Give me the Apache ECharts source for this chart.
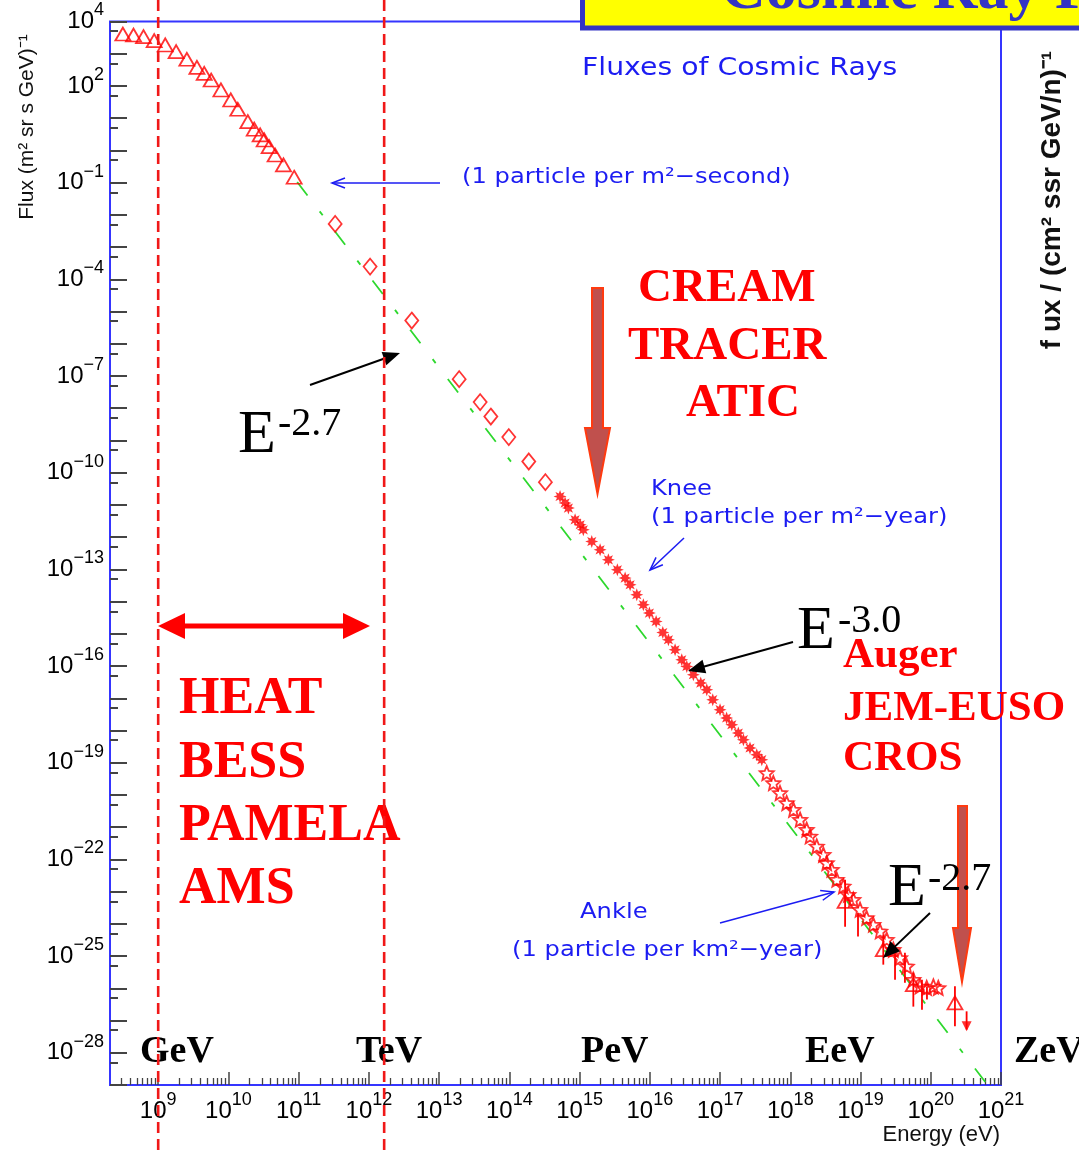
<!DOCTYPE html>
<html><head><meta charset="utf-8">
<script src="https://cdn.jsdelivr.net/npm/echarts@6/dist/echarts.min.js"></script>
<style>html,body{margin:0;padding:0;background:#fff}#c{width:1079px;height:1151px}</style>
</head><body><div id="c"></div>
<script>
// ---------------- DATA ----------------
const lowEnergyE = [3.14e8, 4.45e8, 6.18e8, 8.77e8, 1.26e9, 1.80e9, 2.56e9, 3.56e9, 4.52e9, 5.68e9, 7.82e9, 1.08e10, 1.36e10, 1.89e10, 2.33e10, 2.83e10, 3.23e10, 3.80e10, 4.62e10, 6.08e10, 8.63e10];
const lowEnergyFlux = [4.09e3, 3.81e3, 3.38e3, 2.54e3, 1.87e3, 1.16e3, 673, 379, 247, 153, 75, 36.7, 18.9, 7.8, 4.54, 3.02, 2.11, 1.31, 0.72, 0.354, 0.147];
const directE = [3.31e11, 1.04e12, 4.08e12, 1.93e13, 3.84e13, 5.45e13, 9.82e13, 1.89e14, 3.26e14];
const directFlux = [5.24e-3, 2.48e-4, 5.25e-6, 7.98e-8, 1.55e-8, 5.52e-9, 1.27e-9, 2.22e-10, 5.09e-11];
const kneeE = [5.27e14, 6.22e14, 6.93e14, 8.63e14, 1.02e15, 1.13e15, 1.49e15, 1.96e15, 2.57e15, 3.45e15, 4.45e15, 5.24e15, 6.52e15, 8.09e15, 9.86e15, 1.23e16, 1.53e16, 1.84e16, 2.29e16, 2.85e16, 3.36e16, 4.17e16, 5.31e16, 6.47e16, 7.87e16, 1.00e17, 1.24e17, 1.47e17, 1.82e17, 2.15e17, 2.67e17, 3.33e17, 3.93e17];
const kneeFlux = [1.82e-11, 1.14e-11, 7.96e-12, 3.45e-12, 2.42e-12, 1.69e-12, 7.33e-13, 4.05e-13, 1.98e-13, 9.70e-14, 5.37e-14, 3.33e-14, 1.63e-14, 7.98e-15, 4.41e-15, 2.42e-15, 1.10e-15, 6.55e-16, 3.21e-16, 1.57e-16, 9.73e-17, 5.37e-17, 2.97e-17, 1.84e-17, 9.02e-18, 4.42e-18, 2.44e-18, 1.51e-18, 8.36e-19, 5.18e-19, 2.86e-19, 1.77e-19, 1.24e-19];
const uhecrE = [4.62e17, 5.74e17, 7.14e17, 8.89e17, 1.11e18, 1.38e18, 1.71e18, 1.91e18, 2.38e18, 2.96e18, 3.30e18, 3.89e18, 4.58e18, 5.69e18, 6.70e18, 7.89e18, 9.84e18, 1.22e19, 1.52e19, 1.90e19, 2.36e19, 2.93e19, 3.65e19, 4.55e19, 5.64e19, 7.03e19, 8.75e19, 1.09e20, 1.28e20];
const uhecrFlux = [4.80e-20, 2.35e-20, 1.15e-20, 5.64e-21, 3.49e-21, 1.71e-21, 8.38e-22, 5.19e-22, 2.54e-22, 1.40e-22, 7.74e-23, 4.81e-23, 2.35e-23, 1.46e-23, 8.05e-24, 5.64e-24, 2.76e-24, 1.53e-24, 9.46e-25, 5.86e-25, 3.24e-25, 1.58e-25, 8.77e-26, 4.81e-26, 1.86e-26, 1.15e-26, 1.03e-26, 1.15e-26, 1.03e-26];
const uhecrTriE = [6.03e18, 2.11e19, 5.65e19, 2.21e20];
const uhecrTriFlux = [4.99e-24, 1.58e-25, 1.30e-26, 3.52e-27];
const uhecrTriLow = [8.2e-25, 5.42e-26, 2.70e-27, 6.62e-28];
const uhecrTriHigh = [2.35e-23, 4.62e-25, 3.07e-26, 1.15e-26];
const errBarE = [9.21e18, 3.10e19, 4.29e19, 7.50e19, 8.83e19];
const errBarLow = [4.03e-25, 1.86e-26, 1.50e-26, 2.18e-27, 4.47e-27];
const errBarHigh = [2.23e-24, 1.28e-25, 1.28e-25, 1.86e-26, 1.13e-26];
const limitE = [3.24e20];
const limitFlux = [6.62e-28];
const limitTop = [1.93e-27];
const limitBottom = [5.25e-28];
const powerLawE = [9.53e10, 6.43e20];
const powerLawFlux = [0.105, 1e-29];
const xTickValues = [1e9, 1e10, 1e11, 1e12, 1e13, 1e14, 1e15, 1e16, 1e17, 1e18, 1e19, 1e20, 1e21];
const yLabelValues = [1e4, 1e2, 1e-1, 1e-4, 1e-7, 1e-10, 1e-13, 1e-16, 1e-19, 1e-22, 1e-25, 1e-28];
const energyMarks = [1e9, 1.65e12];   // dashed red lines (GeV, ~TeV)
const X_MIN = 2.06e8, X_MAX = 1.0005e21, Y_MIN = 0.9995e-29, Y_MAX = 1.0005e4;

// ---------------- helpers ----------------
const yTickValues = []; for (let e = -29; e <= 4; e++) yTickValues.push(Math.pow(10, e));
const yMinorValues = []; for (let e = -29; e <= 3; e++) yMinorValues.push(5 * Math.pow(10, e));
const xMinorValues = []; for (let e = 8; e <= 20; e++) for (let k = 2; k <= 9; k++) { const v = k * Math.pow(10, e); if (v > X_MIN && v < X_MAX) xMinorValues.push(v); }
const zip = (a, b) => a.map((v, i) => [v, b[i]]);
function powLabel(v) { const e = Math.round(Math.log10(v)); return '{b|10}{s|' + (e < 0 ? '\u2212' + (-e) : e) + '}'; }
const labelRich = {
  b: { fontSize: 24, fontFamily: 'Liberation Sans', color: '#000', lineHeight: 40, verticalAlign: 'middle' },
  s: { fontSize: 18, fontFamily: 'Liberation Sans', color: '#000', lineHeight: 18, verticalAlign: 'top' }
};
function starPath(n, rIn) {
  let d = '';
  for (let i = 0; i < 2 * n; i++) {
    const r = i % 2 === 0 ? 10 : 10 * rIn, a = -Math.PI / 2 + i * Math.PI / n;
    d += (i === 0 ? 'M' : 'L') + (10 + r * Math.cos(a)).toFixed(2) + ' ' + (10 + r * Math.sin(a)).toFixed(2) + ' ';
  }
  return 'path://' + d + 'Z';
}
const RED = '#ff0000';
const openStyle = { color: 'rgba(255,255,255,0)', borderColor: RED, borderWidth: 1.8 };
const errSeries = (data) => ({
  type: 'custom', data: data, encode: { x: 0, y: [1, 2] }, z: 3, silent: true,
  renderItem: (params, api) => {
    const a = api.coord([api.value(0), api.value(1)]), b = api.coord([api.value(0), api.value(2)]);
    return { type: 'line', shape: { x1: a[0], y1: a[1], x2: b[0], y2: b[1] }, style: { stroke: RED, lineWidth: 1.8 } };
  }
});

const option = {
  animation: false,
  backgroundColor: '#fff',
  grid: { left: 110, right: 78, top: 21.5, bottom: 66, containLabel: false, outerBoundsMode: 'none', show: true, borderColor: '#3535ff', borderWidth: 2, backgroundColor: 'rgba(0,0,0,0)' },
  xAxis: [
    { type: 'log', logBase: 10, min: X_MIN, max: X_MAX, position: 'bottom',
      axisLine: { show: false }, splitLine: { show: false },
      axisTick: { inside: true, length: 13, customValues: xTickValues, lineStyle: { color: '#444', width: 1.5 } },
      axisLabel: { customValues: xTickValues, margin: 6, formatter: powLabel, rich: labelRich } },
    { type: 'log', logBase: 10, min: X_MIN, max: X_MAX, position: 'bottom', offset: 0,
      axisLine: { show: false }, splitLine: { show: false }, axisLabel: { show: false },
      axisTick: { inside: true, length: 7, customValues: xMinorValues, lineStyle: { color: '#444', width: 1.3 } } }
  ],
  yAxis: [
    { type: 'log', logBase: 10, min: Y_MIN, max: Y_MAX, position: 'left',
      axisLine: { show: false }, splitLine: { show: false },
      axisTick: { inside: true, length: 17, customValues: yTickValues, lineStyle: { color: '#444', width: 2 } },
      axisLabel: { customValues: yLabelValues, margin: 6, formatter: powLabel, rich: labelRich } },
    { type: 'log', logBase: 10, min: Y_MIN, max: Y_MAX, position: 'left', offset: 0,
      axisLine: { show: false }, splitLine: { show: false }, axisLabel: { show: false },
      axisTick: { inside: true, length: 8, customValues: yMinorValues, lineStyle: { color: '#444', width: 2 } } }
  ],
  series: [
    { name: 'E^-2.7 power law', type: 'line', data: zip(powerLawE, powerLawFlux), symbol: 'none', z: 1, silent: true,
      lineStyle: { color: '#2ed82e', width: 1.8, type: [17, 20, 5, 20] } },
    { name: 'low energy', type: 'scatter', data: zip(lowEnergyE, lowEnergyFlux), symbol: 'triangle', symbolSize: [15, 13], itemStyle: openStyle, z: 4 },
    { name: 'direct', type: 'scatter', data: zip(directE, directFlux), symbol: 'diamond', symbolSize: [13, 16], itemStyle: openStyle, z: 4 },
    { name: 'knee', type: 'scatter', data: zip(kneeE, kneeFlux), symbol: starPath(8, 0.5), symbolSize: 13, itemStyle: { color: RED }, z: 4 },
    { name: 'uhecr', type: 'scatter', data: zip(uhecrE, uhecrFlux), symbol: starPath(5, 0.45), symbolSize: 14, itemStyle: openStyle, z: 4 },
    errSeries(uhecrTriE.map((e, i) => [e, uhecrTriLow[i], uhecrTriHigh[i]])),
    errSeries(errBarE.map((e, i) => [e, errBarLow[i], errBarHigh[i]])),
    errSeries(limitE.map((e, i) => [e, limitBottom[i], limitTop[i]])),
    { name: 'uhecr tri', type: 'scatter', data: zip(uhecrTriE, uhecrTriFlux), symbol: 'triangle', symbolSize: [15, 13], itemStyle: openStyle, z: 5 },
    { name: 'limit', type: 'scatter', data: zip(limitE, limitFlux), symbol: 'triangle', symbolRotate: 180, symbolSize: [10, 10], itemStyle: { color: RED }, z: 5 }
  ]
};

const chart = echarts.init(document.getElementById('c'), null, { renderer: 'canvas' });
chart.setOption(option);

// ---------------- annotations ----------------
function txt(text, x, y, font, fill, align, extra) {
  return Object.assign({ type: 'text', x: x, y: y, z: 120, silent: true,
    style: { text: text, x: 0, y: 0, font: font, fill: fill, align: align || 'left', textAlign: align || 'left', verticalAlign: 'middle', textVerticalAlign: 'middle' } }, extra || {});
}
function arrow(x1, y1, x2, y2, color, w, hl, hh, filled) {
  const dx = x2 - x1, dy = y2 - y1, d = Math.hypot(dx, dy), ux = dx / d, uy = dy / d;
  const bx = x2 - ux * hl, by = y2 - uy * hl, nx = -uy, ny = ux;
  const p1 = [bx + nx * hh, by + ny * hh], p2 = [bx - nx * hh, by - ny * hh];
  if (filled) return [
    { type: 'line', z: 115, silent: true, shape: { x1: x1, y1: y1, x2: bx + ux * 2, y2: by + uy * 2 }, style: { stroke: color, lineWidth: w } },
    { type: 'polygon', z: 115, silent: true, shape: { points: [[x2, y2], p1, p2] }, style: { fill: color } }];
  return [
    { type: 'line', z: 115, silent: true, shape: { x1: x1, y1: y1, x2: x2, y2: y2 }, style: { stroke: color, lineWidth: w } },
    { type: 'polyline', z: 115, silent: true, shape: { points: [p1, [x2, y2], p2] }, style: { stroke: color, lineWidth: w, fill: null } }];
}
function bigDown(xl, xr, top, hs, hl, hr, tx, ty) {
  return { type: 'polygon', z: 115, silent: true,
    shape: { points: [[xl, top], [xr, top], [xr, hs], [hr, hs], [tx, ty], [hl, hs], [xl, hs]] },
    style: { fill: '#c0504d', stroke: '#ff3a10', lineWidth: 2 } };
}
const BLUE = '#1c1cf2';
const blueFont = '22px "DejaVu Sans"';
const redBig = (s) => 'bold ' + s + 'px "Liberation Serif"';
const g = [];
// dashed energy marks
energyMarks.forEach(v => {
  const x = chart.convertToPixel({ xAxisIndex: 0 }, v);
  g.push({ type: 'line', z: 130, silent: true, shape: { x1: x, y1: 0, x2: x, y2: 1151 }, style: { stroke: '#f01818', lineWidth: 2.6, lineDash: [11, 6] } });
});
// title box
g.push({ type: 'rect', z: 125, silent: true, shape: { x: 582.5, y: -10, width: 520, height: 38 }, style: { fill: '#ffff00', stroke: '#3434c4', lineWidth: 5 } });
g.push(txt('Cosmic Ray Flux', 721, -8, 'bold 62px "Liberation Serif"', '#3434c4', 'left', { z: 126 }));
// axis titles
g.push(txt('Flux (m² sr s GeV)⁻¹', 27, 127, '21px "Liberation Sans"', '#111', 'center', { rotation: Math.PI / 2 }));
g.push(txt('Energy (eV)', 1000, 1135, '22px "Liberation Sans"', '#111', 'right'));
g.push(txt('f ux / (cm² ssr GeV/n)⁻¹', 1052, 200, 'bold 28px "Liberation Sans"', '#111', 'center', { rotation: Math.PI / 2 }));
// blue notes
g.push(txt('Fluxes of Cosmic Rays', 582, 69, '24px "DejaVu Sans"', BLUE, 'left', { scaleX: 1.18 }));
g.push(txt('(1 particle per m²\u2212second)', 462, 177, blueFont, BLUE, 'left', { scaleX: 1.1 }));
g.push(txt('Knee', 651, 489, blueFont, BLUE, 'left', { scaleX: 1.1 }));
g.push(txt('(1 particle per m²\u2212year)', 651, 517, blueFont, BLUE, 'left', { scaleX: 1.1 }));
g.push(txt('Ankle', 580, 912, blueFont, BLUE, 'left', { scaleX: 1.1 }));
g.push(txt('(1 particle per km²\u2212year)', 512, 950, blueFont, BLUE, 'left', { scaleX: 1.1 }));
g.push(...arrow(440, 183, 332, 183, BLUE, 1.5, 13, 5, false));
g.push(...arrow(684, 538, 650, 570, BLUE, 1.5, 13, 5, false));
g.push(...arrow(720, 923, 834, 892, BLUE, 1.5, 13, 5, false));
// experiments
g.push(txt('CREAM', 638, 289, redBig(47), RED));
g.push(txt('TRACER', 628, 347, redBig(47), RED));
g.push(txt('ATIC', 686, 404, redBig(47), RED));
g.push(txt('HEAT', 179, 700, redBig(52), RED));
g.push(txt('BESS', 179, 764, redBig(52), RED));
g.push(txt('PAMELA', 179, 827, redBig(52), RED));
g.push(txt('AMS', 179, 890, redBig(52), RED));
g.push(txt('Auger', 843, 656, redBig(43), RED));
g.push(txt('JEM-EUSO', 843, 709, redBig(43), RED));
g.push(txt('CROS', 843, 759, redBig(43), RED));
// energy units
[['GeV', 140], ['TeV', 356], ['PeV', 581], ['EeV', 805], ['ZeV', 1014]].forEach(u => g.push(txt(u[0], u[1], 1052, redBig(38), '#000')));
// spectral indices
const eFont = '62px "Liberation Serif"', supFont = '40px "Liberation Serif"';
g.push(txt('E', 238, 436, eFont, '#000'), txt('-2.7', 278, 424, supFont, '#000'));
g.push(txt('E', 797, 632, eFont, '#000'), txt('-3.0', 838, 621, supFont, '#000'));
g.push(txt('E', 888, 889, eFont, '#000'), txt('-2.7', 928, 879, supFont, '#000'));
g.push(...arrow(310, 385, 400, 353, '#000', 2, 17, 7, true));
g.push(...arrow(793, 642, 688, 671, '#000', 2, 17, 7, true));
g.push(...arrow(930, 913, 883, 958, '#000', 2, 17, 7, true));
// red arrows
g.push({ type: 'line', z: 115, silent: true, shape: { x1: 180, y1: 626, x2: 350, y2: 626 }, style: { stroke: RED, lineWidth: 5 } });
g.push({ type: 'polygon', z: 115, silent: true, shape: { points: [[158, 626], [185, 613], [185, 639]] }, style: { fill: RED } });
g.push({ type: 'polygon', z: 115, silent: true, shape: { points: [[370, 626], [343, 613], [343, 639]] }, style: { fill: RED } });
g.push(bigDown(592, 603, 288, 428, 585, 610, 597.5, 494));
g.push(bigDown(958, 967, 806, 928, 953, 971, 962, 982));

chart.setOption({ graphic: { elements: g } });
</script></body></html>
